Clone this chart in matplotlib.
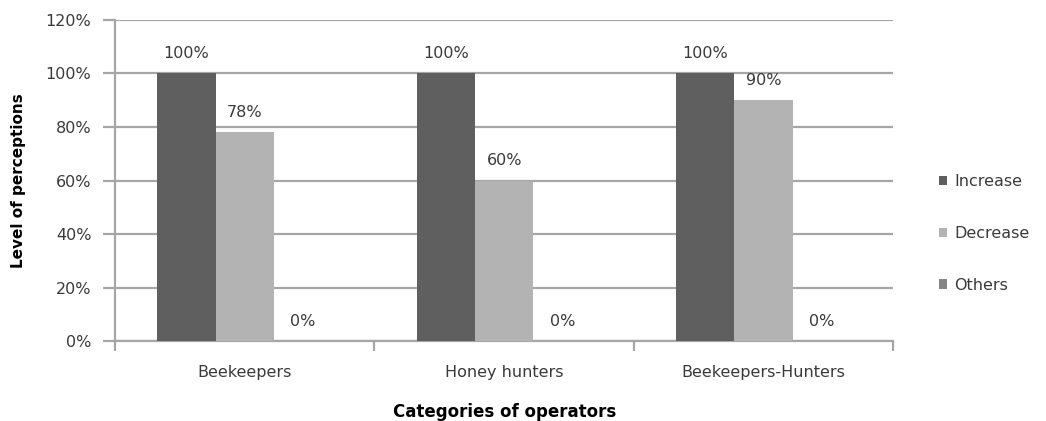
import numpy as np
import matplotlib.pyplot as plt
from matplotlib.ticker import FixedLocator

categories = ['Beekeepers', 'Honey hunters', 'Beekeepers-Hunters']
series = ['Increase', 'Decrease', 'Others']
increase = [100, 100, 100]
decrease = [78, 60, 90]
others = [0, 0, 0]
colors = ['#5f5f5f', '#b3b3b3', '#858585']

plt.rcParams['font.family'] = ['DejaVu Sans']
fs = 11.5
tc = '#3a3a3a'

fig = plt.figure(figsize=(10.46, 4.21), dpi=100)
ax = fig.add_axes([0.110, 0.190, 0.744, 0.7625])

x = np.arange(len(categories))
w = 0.225
for k, (name, vals) in enumerate(zip(series, [increase, decrease, others])):
    pos = x + (k - 1) * w
    ax.bar(pos, vals, w, color=colors[k], label=name, zorder=3)
    for p, v in zip(pos, vals):
        ax.text(p, v + 4.5, '%d%%' % v, ha='center', va='bottom',
                fontsize=fs, color=tc)

ax.set_xlim(-0.5, 2.5)
ax.set_ylim(0, 120)
ax.set_yticks(np.arange(0, 121, 20))
ax.set_yticklabels(['%d%%' % v for v in range(0, 121, 20)], fontsize=fs, color=tc)
ax.yaxis.grid(True, color='#a6a6a6', linewidth=1.6, zorder=0)
ax.tick_params(axis='y', length=9, width=1.6, color='#a6a6a6', pad=8)

ax.xaxis.set_major_locator(FixedLocator(x))
ax.set_xticklabels(categories, fontsize=fs, color=tc)
ax.tick_params(axis='x', which='major', length=0, pad=17)
ax.xaxis.set_minor_locator(FixedLocator([-0.5, 0.5, 1.5, 2.5]))
ax.tick_params(axis='x', which='minor', length=7, width=1.6, color='#a6a6a6')

for s in ['top', 'right']:
    ax.spines[s].set_visible(False)
for s in ['left', 'bottom']:
    ax.spines[s].set_color('#a6a6a6')
    ax.spines[s].set_linewidth(1.6)

ax.set_ylabel('Level of perceptions', fontsize=11, fontweight='bold', labelpad=14)
ax.set_xlabel('Categories of operators', fontsize=12, fontweight='bold', labelpad=17)

ax.legend(loc='center left', bbox_to_anchor=(1.05, 0.335), frameon=False,
          fontsize=fs, handlelength=0.55, handleheight=0.55, handletextpad=0.45,
          labelspacing=2.3, borderaxespad=0, labelcolor=tc)

plt.savefig('out.png', dpi=100)
